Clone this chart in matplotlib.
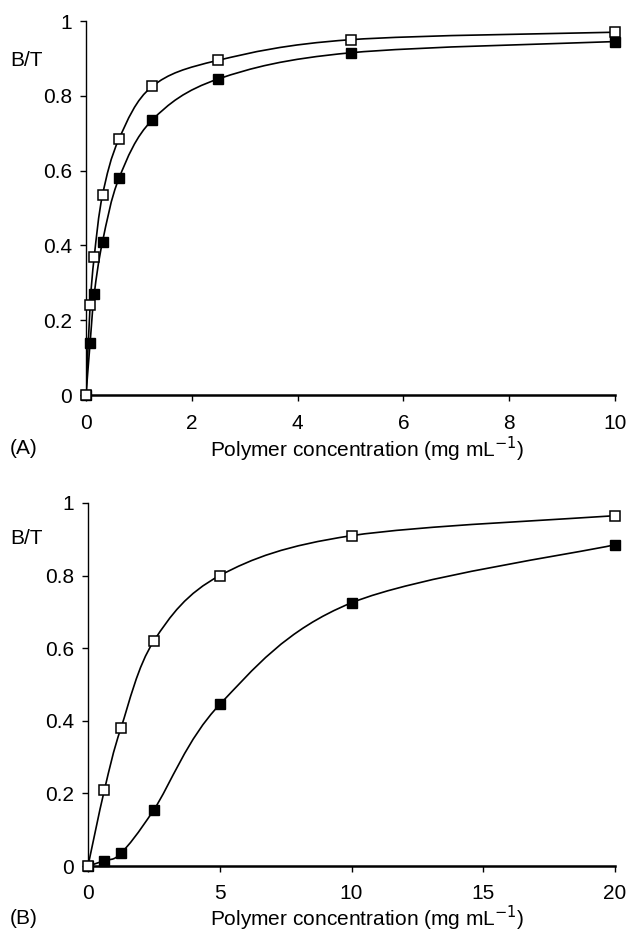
import matplotlib
matplotlib.use("Agg")
import matplotlib.pyplot as plt
import numpy as np
from matplotlib.path import Path
from matplotlib.patches import PathPatch

plt.rcParams["font.family"] = ["Liberation Sans", "DejaVu Sans"]

# panel A
conc_a = [0, 0.078, 0.156, 0.3125, 0.625, 1.25, 2.5, 5, 10]
open_a = [0, 0.24, 0.37, 0.535, 0.685, 0.825, 0.895, 0.95, 0.97]
filled_a = [0, 0.14, 0.27, 0.41, 0.58, 0.735, 0.845, 0.915, 0.945]

# panel B
conc_b = [0, 0.625, 1.25, 2.5, 5, 10, 20]
open_b = [0, 0.21, 0.38, 0.62, 0.80, 0.91, 0.965]
filled_b = [0, 0.015, 0.035, 0.155, 0.445, 0.725, 0.885]

FS = 15
W, H = 629, 932


def smooth_path(x, y):
    # Excel-style smoothed line: cubic Bezier through every point
    p = np.column_stack([x, y]).astype(float)
    n = len(p)
    verts = [p[0]]
    codes = [Path.MOVETO]
    for i in range(n - 1):
        p0 = p[i - 1] if i > 0 else p[i]
        p3 = p[i + 2] if i + 2 < n else p[i + 1]
        c1 = p[i] + (p[i + 1] - p0) / 6
        c2 = p[i + 1] - (p3 - p[i]) / 6
        verts += [c1, c2, p[i + 1]]
        codes += [Path.CURVE4] * 3
    return Path(verts, codes)


def panel(ax, x, yo, yf, xticks, letter, label_y, bt_y, xpad):
    for yy in (yo, yf):
        ax.add_patch(PathPatch(smooth_path(x, yy), fill=False, lw=1.2,
                               ec="black", zorder=2))
    ax.plot(x, yf, ls="none", marker="s", ms=7.5, mfc="black", mec="black",
            clip_on=False, zorder=3)
    ax.plot(x, yo, ls="none", marker="s", ms=7.5, mfc="white", mec="black",
            mew=1.1, clip_on=False, zorder=3)
    ax.set_xlim(xticks[0], xticks[-1])
    ax.set_ylim(0, 1)
    ax.set_xticks(xticks)
    ax.set_yticks([0, 0.2, 0.4, 0.6, 0.8, 1])
    ax.set_yticklabels(["0", "0.2", "0.4", "0.6", "0.8", "1"])
    for s in ("top", "right"):
        ax.spines[s].set_visible(False)
    ax.spines["left"].set_linewidth(1.0)
    ax.spines["bottom"].set_linewidth(1.8)
    ax.tick_params(labelsize=FS, length=4, width=1)
    ax.tick_params(axis="y", pad=6)
    ax.tick_params(axis="x", pad=xpad)
    fig.text(367 / W, 1 - label_y / H, "Polymer concentration (mg mL$^{-1}$)",
             fontsize=FS, ha="center", va="center")
    fig.text(10 / W, 1 - label_y / H, letter, fontsize=FS,
             ha="left", va="center")
    fig.text(10 / W, 1 - bt_y / H, "B/T", fontsize=FS,
             ha="left", va="center")


fig = plt.figure(figsize=(6.29, 9.32), dpi=100)
ax1 = fig.add_axes([86 / W, 1 - 395 / H, 529 / W, 374 / H])
ax2 = fig.add_axes([88 / W, 1 - 866 / H, 527 / W, 363 / H])

panel(ax1, conc_a, open_a, filled_a, [0, 2, 4, 6, 8, 10], "(A)", 449, 61, 10)
panel(ax2, conc_b, open_b, filled_b, [0, 5, 10, 15, 20], "(B)", 918, 538, 9)

fig.savefig("out.png", dpi=100)
